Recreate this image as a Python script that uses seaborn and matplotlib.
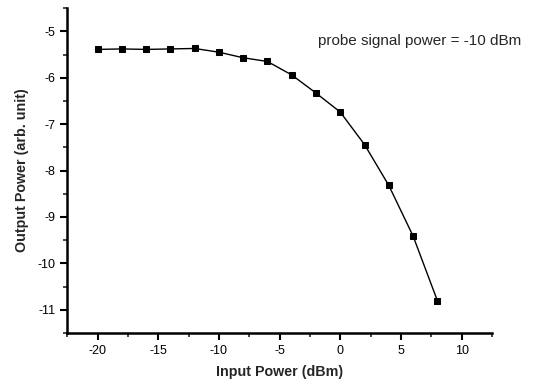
import matplotlib
matplotlib.use("Agg")
import matplotlib.pyplot as plt
import seaborn as sns
import pandas as pd
from matplotlib.ticker import MultipleLocator

input_power = [-20, -18, -16, -14, -12, -10, -8, -6, -4, -2, 0, 2, 4, 6, 8]
output_power = [-5.39, -5.38, -5.39, -5.38, -5.37, -5.45, -5.57, -5.65, -5.94,
                -6.33, -6.74, -7.44, -8.32, -9.41, -10.80]

df = pd.DataFrame({"x": input_power, "y": output_power})

sns.set_style("ticks")
plt.rcParams['font.family'] = ['Liberation Sans', 'DejaVu Sans']

fig = plt.figure(figsize=(5.33, 3.85), dpi=100)
ax = fig.add_axes([0.126, 0.135, 0.797, 0.844])
sns.lineplot(data=df, x="x", y="y", ax=ax, color="black", linewidth=1.0,
             marker="s", markersize=4.5, markeredgecolor="black")

ax.set_xlim(-22.5, 12.5)
ax.set_ylim(-11.5, -4.5)
ax.xaxis.set_minor_locator(MultipleLocator(2.5))
ax.yaxis.set_minor_locator(MultipleLocator(0.5))
ax.set_xticks([-20, -15, -10, -5, 0, 5, 10])
ax.set_xticklabels(["-20", "-15", "-10", "-5", "0", "5", "10"])
ax.set_yticks([-11, -10, -9, -8, -7, -6, -5])
ax.set_yticklabels(["-11", "-10", "-9", "-8", "-7", "-6", "-5"])
ax.tick_params(which="major", direction="out", length=5, width=1.5, labelsize=9, colors="black")
ax.tick_params(which="minor", direction="out", length=3, width=1.2)
for s in ["left", "bottom"]:
    ax.spines[s].set_linewidth(1.8)
    ax.spines[s].set_color("black")
sns.despine(ax=ax)

ax.set_xlabel("Input Power (dBm)", fontsize=10.3, fontweight="bold", labelpad=6)
ax.set_ylabel("Output Power (arb. unit)", fontsize=10.3, fontweight="bold", labelpad=6)
ax.text(-1.85, -5.2, "probe signal power = -10 dBm", fontsize=11, va="center", ha="left")

fig.savefig("out.png", dpi=100)
